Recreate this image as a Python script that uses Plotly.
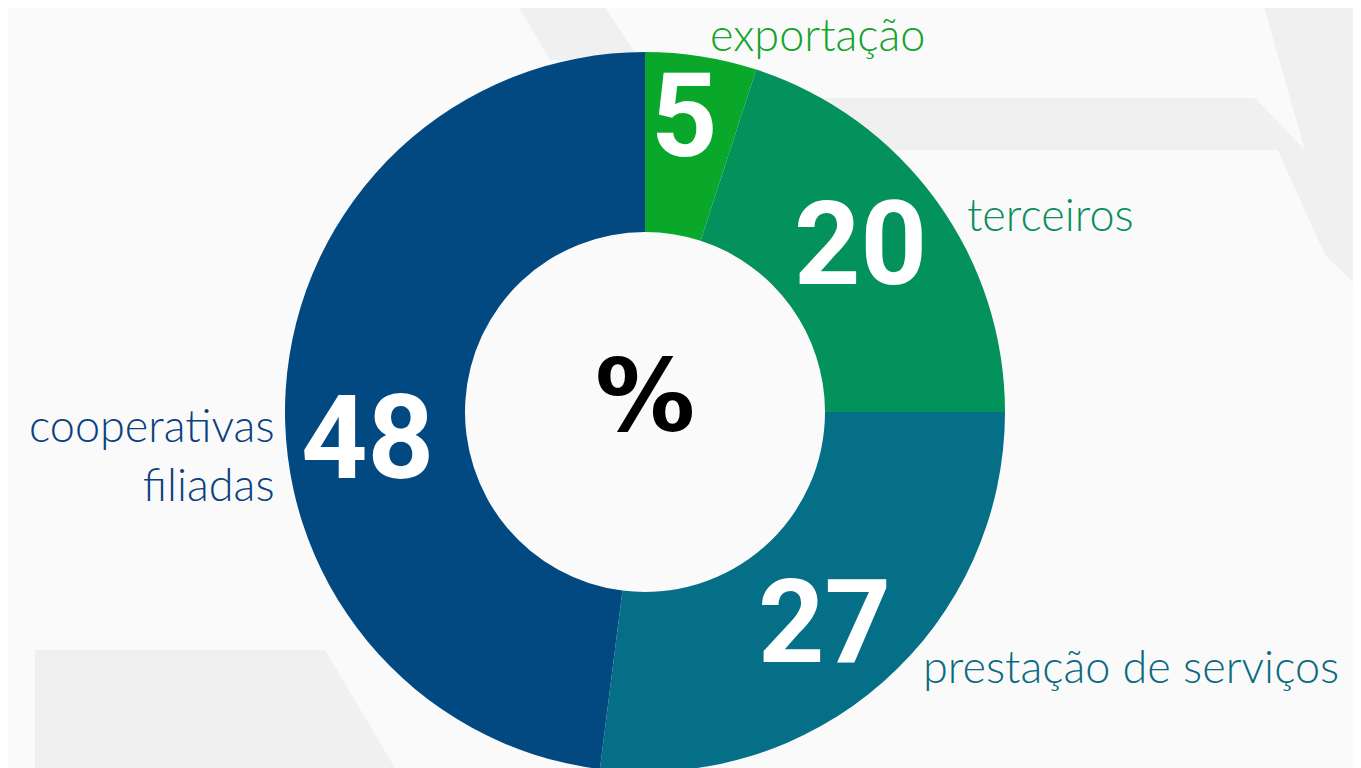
import plotly.graph_objects as go

# ---- data ----
categories = ["exportação", "terceiros", "prestação de serviços", "cooperativas filiadas"]
values = [5, 20, 27, 48]
slice_colors = ["#0aa82a", "#03915c", "#056f87", "#024982"]
label_colors = ["#14a42a", "#0b8d5c", "#0b6a80", "#0c407e"]
label_texts = ["exportação", "terceiros", "prestação de serviços", "cooperativas<br>filiadas"]

OFF = 8  # page body margin
W, H = 1361, 808
BG = "#fafafa"

def px(x):
    return (x - OFF) / W

def py(y):
    return 1 - (y - OFF) / H

fig = go.Figure()
fig.add_trace(go.Pie(
    labels=categories,
    values=values,
    hole=0.5,
    sort=False,
    direction="clockwise",
    rotation=0,
    marker=dict(colors=slice_colors, line=dict(width=0)),
    textinfo="none",
    hoverinfo="label+value",
    showlegend=False,
    domain=dict(x=[px(645 - 360), px(645 + 360)], y=[0, 1]),
))

# decorative background hexagon bands (very light)
bg_shapes = [
    dict(type="path", path=f"M {px(760)} {py(98)} L {px(1255)} {py(98)} L {px(1305)} {py(150)} L {px(760)} {py(150)} Z"),
    dict(type="path", path=f"M {px(1262)} {py(0)} L {px(1361)} {py(0)} L {px(1361)} {py(290)} L {px(1325)} {py(255)} L {px(1262)} {py(115)} L {px(1305)} {py(150)} Z"),
    dict(type="path", path=f"M {px(35)} {py(650)} L {px(325)} {py(650)} L {px(395)} {py(768)} L {px(35)} {py(768)} Z"),
    dict(type="path", path=f"M {px(515)} {py(0)} L {px(600)} {py(0)} L {px(640)} {py(60)} L {px(550)} {py(60)} Z"),
]
for s in bg_shapes:
    s.update(xref="paper", yref="paper", fillcolor="#f0f0f0", line=dict(width=0), layer="below")

NUM_FONT = "Roboto, Open Sans, sans-serif"
annotations = []
# numbers inside the slices
num_pos = [(684, 116), (860, 244), (824, 622), (367, 438)]
for v, (x, y) in zip(values, num_pos):
    annotations.append(dict(
        x=px(x), y=py(y), xref="paper", yref="paper", text=f"<b>{v}</b>",
        showarrow=False, xanchor="center", yanchor="middle",
        font=dict(family=NUM_FONT, size=116, color="white", weight=900),
    ))
# center percent sign
annotations.append(dict(
    x=px(645), y=py(396), xref="paper", yref="paper", text="<b>%</b>",
    showarrow=False, xanchor="center", yanchor="middle",
    font=dict(family="DejaVu Sans, sans-serif", size=100, color="black", weight=700),
))
# outer labels
lab_pos = [(708, 34, "left"), (965, 214, "left"), (921, 666, "left"), (277, 454, "right")]
for t, c, (x, y, a) in zip(label_texts, label_colors, lab_pos):
    annotations.append(dict(
        x=px(x), y=py(y), xref="paper", yref="paper", text=t,
        showarrow=False, xanchor=a, yanchor="middle", align=a,
        font=dict(family="Lato, sans-serif", size=45, color=c, weight=300),
    ))

fig.update_layout(
    width=W, height=H,
    margin=dict(l=0, r=0, t=0, b=0),
    paper_bgcolor=BG, plot_bgcolor=BG,
    shapes=bg_shapes,
    annotations=annotations,
)

fig.write_html("out.html")
